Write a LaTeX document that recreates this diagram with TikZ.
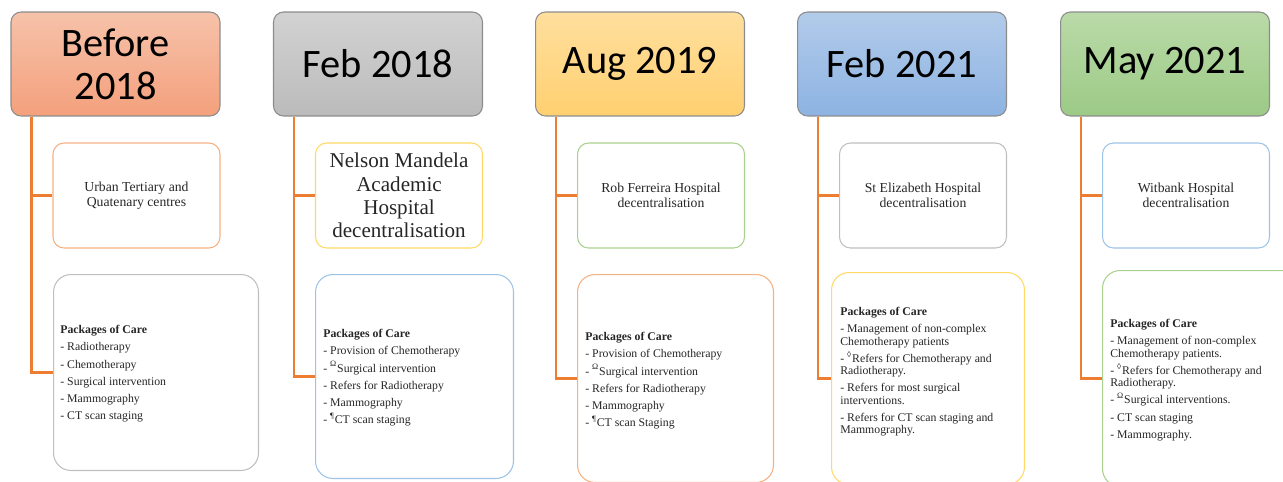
\documentclass[tikz,border=0pt]{standalone}
\usepackage{fontspec}
\setmainfont{Liberation Serif}
\newfontfamily\yearfont{Carlito}

\definecolor{linkorange}{HTML}{ED7D31}
\definecolor{lineorange}{HTML}{F4B183}
\definecolor{linegray}{HTML}{BFBFBF}
\definecolor{lineyellow}{HTML}{FFD966}
\definecolor{lineblue}{HTML}{9DC3E6}
\definecolor{linegreen}{HTML}{A9D18E}
\definecolor{peachtop}{HTML}{F6C2AA}
\definecolor{peachbot}{HTML}{F4A07C}
\definecolor{graytop}{HTML}{D2D2D2}
\definecolor{graybot}{HTML}{BBBBBB}
\definecolor{goldtop}{HTML}{FFDF9E}
\definecolor{goldbot}{HTML}{FFD070}
\definecolor{bluetop}{HTML}{B2CBEA}
\definecolor{bluebot}{HTML}{8DB3E2}
\definecolor{greentop}{HTML}{BADAA8}
\definecolor{greenbot}{HTML}{9CCA86}

% footnote marks that keep the line height
\newcommand{\mk}[1]{\smash{\textsuperscript{#1}}}

\begin{document}
\begin{tikzpicture}[x=0.02cm, y=-0.02cm,
  yearbox/.style={rounded corners=0.2cm, draw=black!45, line width=0.6pt, minimum width=4.18cm, minimum height=2.08cm, align=center, font=\yearfont\fontsize{23}{24.5}\selectfont},
  sitebox/.style={rounded corners=0.22cm, line width=0.6pt, minimum width=3.34cm, minimum height=2.1cm, align=center, text=black!85, font=\fontsize{7.8}{8.6}\selectfont},
  carebox/.style={rounded corners=0.35cm, line width=0.6pt, anchor=north west},
  caretext/.style={anchor=north west, inner sep=0pt, align=left, text=black!85, font=\fontsize{6.7}{7}\selectfont},
  link/.style={draw=linkorange, line width=1.4pt}]
\useasboundingbox (0,0) rectangle (1283,481);

% years
\node[yearbox, top color=peachtop, bottom color=peachbot] (y1) at (115.5,64) {Before\\2018};
\node[yearbox, top color=graytop, bottom color=graybot] (y2) at (378,64) {Feb 2018};
\node[yearbox, top color=goldtop, bottom color=goldbot] (y3) at (640,64) {Aug 2019};
\node[yearbox, top color=bluetop, bottom color=bluebot] (y4) at (902,64) {Feb 2021};
\node[yearbox, top color=greentop, bottom color=greenbot] (y5) at (1165,64) {May 2021};

% sites
\node[sitebox, draw=lineorange] (s1) at (136.5,195.5) {Urban Tertiary and\\Quatenary centres};
\node[sitebox, draw=lineyellow, font=\fontsize{12}{13.3}\selectfont] (s2) at (399,195.5) {Nelson Mandela\\Academic\\Hospital\\decentralisation};
\node[sitebox, draw=linegreen] (s3) at (661,195.5) {Rob Ferreira Hospital\\decentralisation};
\node[sitebox, draw=linegray] (s4) at (923,195.5) {St Elizabeth Hospital\\decentralisation};
\node[sitebox, draw=lineblue] (s5) at (1186,195.5) {Witbank Hospital\\decentralisation};

% packages of care
\node[carebox, draw=linegray, minimum width=4.1cm, minimum height=3.92cm] (c1) at (53,274) {};
\node[carebox, draw=lineblue, minimum width=3.96cm, minimum height=4.08cm] (c2) at (315,274) {};
\node[carebox, draw=lineorange, minimum width=3.92cm, minimum height=4.16cm] (c3) at (577,274) {};
\node[carebox, draw=lineyellow, minimum width=3.86cm, minimum height=4.24cm] (c4) at (831,272) {};
\node[carebox, draw=linegreen, minimum width=4.0cm, minimum height=4.32cm] (c5) at (1102,270) {};

\node[caretext] (t1) at ([shift={(7,51)}]c1.north west) {\textbf{Packages of Care}\\[2.8pt]
  - Radiotherapy\\[2.8pt]
  - Chemotherapy\\[2.8pt]
  - Surgical intervention\\[2.8pt]
  - Mammography\\[2.8pt]
  - CT scan staging};
\node[caretext] (t2) at ([shift={(8,55)}]c2.north west) {\textbf{Packages of Care}\\[2.8pt]
  - Provision of Chemotherapy\\[2.8pt]
  - \mk{Ω}Surgical intervention\\[2.8pt]
  - Refers for Radiotherapy\\[2.8pt]
  - Mammography\\[2.8pt]
  - \mk{¶}CT scan staging};
\node[caretext] (t3) at ([shift={(8,58)}]c3.north west) {\textbf{Packages of Care}\\[2.8pt]
  - Provision of Chemotherapy\\[2.8pt]
  - \mk{Ω}Surgical intervention\\[2.8pt]
  - Refers for Radiotherapy\\[2.8pt]
  - Mammography\\[2.8pt]
  - \mk{¶}CT scan Staging};
\node[caretext] (t4) at ([shift={(9,35)}]c4.north west) {\textbf{Packages of Care}\\[2.8pt]
  - Management of non-complex\\
  Chemotherapy patients\\[2.8pt]
  - \mk{◊}Refers for Chemotherapy and\\
  Radiotherapy.\\[2.8pt]
  - Refers for most surgical\\
  interventions.\\[2.8pt]
  - Refers for CT scan staging and\\
  Mammography.};
\node[caretext] (t5) at ([shift={(8,49)}]c5.north west) {\textbf{Packages of Care}\\[2.8pt]
  - Management of non-complex\\
  Chemotherapy patients.\\[2.8pt]
  - \mk{◊}Refers for Chemotherapy and\\
  Radiotherapy.\\[2.8pt]
  - \mk{Ω}Surgical interventions.\\[2.8pt]
  - CT scan staging\\[2.8pt]
  - Mammography.};

% timeline links
\draw[link] ([xshift=0.42cm]y1.south west) |- (s1.west);
\draw[link] ([xshift=0.42cm]y1.south west) |- (c1.west);
\draw[link] ([xshift=0.42cm]y2.south west) |- (s2.west);
\draw[link] ([xshift=0.42cm]y2.south west) |- (c2.west);
\draw[link] ([xshift=0.42cm]y3.south west) |- (s3.west);
\draw[link] ([xshift=0.42cm]y3.south west) |- (c3.west);
\draw[link] ([xshift=0.42cm]y4.south west) |- (s4.west);
\draw[link] ([xshift=0.42cm]y4.south west) |- (c4.west);
\draw[link] ([xshift=0.42cm]y5.south west) |- (s5.west);
\draw[link] ([xshift=0.42cm]y5.south west) |- (c5.west);
\end{tikzpicture}
\end{document}
